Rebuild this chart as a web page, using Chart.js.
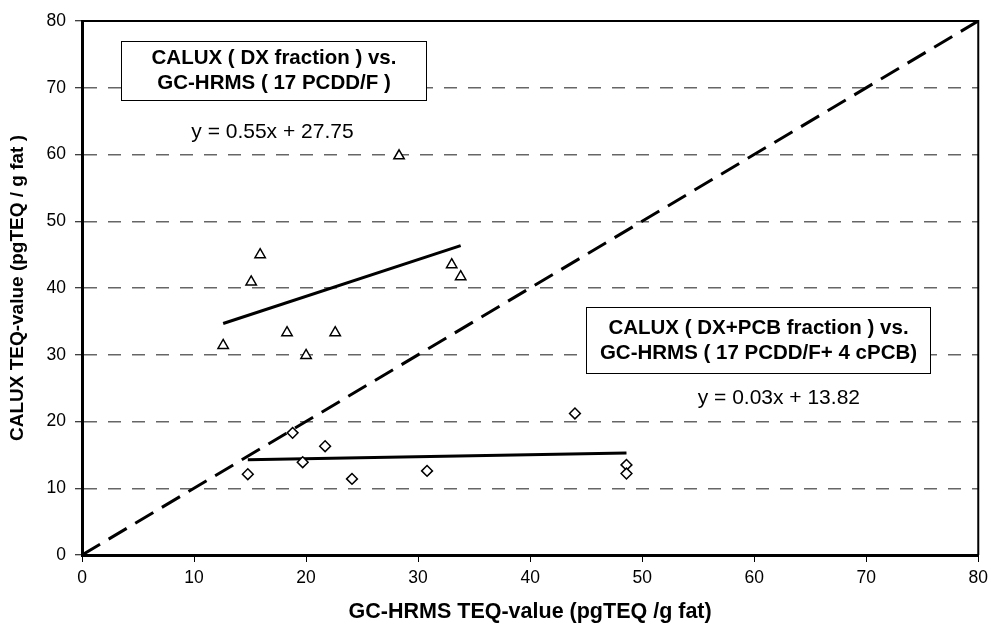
<!DOCTYPE html>
<html>
<head>
<meta charset="utf-8">
<script src="https://cdn.jsdelivr.net/npm/chart.js@4.4.1/dist/chart.umd.min.js"></script>
<style>
  html, body { margin: 0; padding: 0; background: #fff; }
  #wrap { width: 994px; height: 631px; position: relative; }
</style>
</head>
<body>
<div id="wrap"><canvas id="chart"></canvas></div>
<script>
// ===== Data =====
// CALUX DX fraction vs GC-HRMS (17 PCDD/F)  -> triangles
const dxX = [12.6, 15.1, 15.9, 18.3, 20.0, 22.6, 28.3, 33.0, 33.8];
const dxY = [31.4, 40.9, 45.0, 33.3, 29.9, 33.3, 59.8, 43.5, 41.7];
// CALUX DX+PCB fraction vs GC-HRMS (17 PCDD/F + 4 cPCB) -> diamonds
const pcbX = [14.8, 18.8, 19.7, 21.7, 24.1, 30.8, 44.0, 48.6, 48.6];
const pcbY = [12.1, 18.3, 13.9, 16.3, 11.4, 12.6, 21.2, 13.5, 12.2];

// trend lines as printed on the chart
const dxSlope = 0.55, dxIntercept = 27.75;
const pcbSlope = 0.03, pcbIntercept = 13.82;

// 1:1 reference line
const identityX = [0, 80];

const axisTicks = [0, 10, 20, 30, 40, 50, 60, 70, 80];

const toPoints = (xs, ys) => xs.map((x, i) => ({ x: x, y: ys[i] }));
const trend = (xs, slope, b) => {
    const lo = Math.min(...xs), hi = Math.max(...xs);
    return [{ x: lo, y: slope * lo + b }, { x: hi, y: slope * hi + b }];
};

// ===== Text boxes (data coordinates) =====
const notes = [
    { box: [3.45, 77.0, 30.7, 68.2], lines: ['CALUX ( DX fraction ) vs.', 'GC-HRMS ( 17 PCDD/F )'] },
    { box: [45.0, 37.1, 75.7, 27.2], lines: ['CALUX ( DX+PCB fraction ) vs.', 'GC-HRMS ( 17 PCDD/F+ 4 cPCB)'] }
];
const equations = [
    { x: 17.0, y: 63.3, text: 'y = 0.55x + 27.75' },
    { x: 62.2, y: 23.5, text: 'y = 0.03x + 13.82' }
];

const FONT = "'Liberation Sans', Arial, sans-serif";

const notesPlugin = {
    id: 'notes',
    afterDatasetsDraw(chart) {
        const { ctx, chartArea, scales: { x, y } } = chart;
        ctx.save();
        // top and right frame
        ctx.strokeStyle = '#000';
        ctx.lineWidth = 2;
        ctx.beginPath();
        ctx.moveTo(chartArea.left, chartArea.top);
        ctx.lineTo(chartArea.right, chartArea.top);
        ctx.lineTo(chartArea.right, chartArea.bottom);
        ctx.stroke();

        notes.forEach(n => {
            const x1 = Math.round(x.getPixelForValue(n.box[0])) + 0.5;
            const y1 = Math.round(y.getPixelForValue(n.box[1])) + 0.5;
            const x2 = Math.round(x.getPixelForValue(n.box[2])) + 0.5;
            const y2 = Math.round(y.getPixelForValue(n.box[3])) + 0.5;
            ctx.fillStyle = '#fff';
            ctx.fillRect(x1, y1, x2 - x1, y2 - y1);
            ctx.strokeStyle = '#000';
            ctx.lineWidth = 1;
            ctx.strokeRect(x1, y1, x2 - x1, y2 - y1);
            ctx.fillStyle = '#000';
            ctx.font = 'bold 20.5px ' + FONT;
            ctx.textAlign = 'center';
            ctx.textBaseline = 'middle';
            const cx = (x1 + x2) / 2, cy = (y1 + y2) / 2;
            ctx.fillText(n.lines[0], cx, cy - 12.5);
            ctx.fillText(n.lines[1], cx, cy + 12.5);
        });

        ctx.font = '21px ' + FONT;
        ctx.textAlign = 'center';
        ctx.textBaseline = 'middle';
        ctx.fillStyle = '#000';
        equations.forEach(e => {
            ctx.fillText(e.text, x.getPixelForValue(e.x), y.getPixelForValue(e.y));
        });
        ctx.restore();
    }
};

const ctx = document.getElementById('chart').getContext('2d');
new Chart(ctx, {
    type: 'scatter',
    data: {
        datasets: [
            {
                label: 'DX fraction',
                data: toPoints(dxX, dxY),
                pointStyle: 'triangle',
                pointRadius: 6,
                pointBorderWidth: 1.5,
                pointBackgroundColor: '#fff',
                pointBorderColor: '#000'
            },
            {
                label: 'DX+PCB fraction',
                data: toPoints(pcbX, pcbY),
                pointStyle: 'rectRot',
                pointRadius: 5.4,
                pointBorderWidth: 1.5,
                pointBackgroundColor: '#fff',
                pointBorderColor: '#000'
            },
            {
                label: 'DX trend',
                data: trend(dxX, dxSlope, dxIntercept),
                showLine: true,
                pointRadius: 0,
                borderColor: '#000',
                borderWidth: 3
            },
            {
                label: 'DX+PCB trend',
                data: trend(pcbX, pcbSlope, pcbIntercept),
                showLine: true,
                pointRadius: 0,
                borderColor: '#000',
                borderWidth: 3
            },
            {
                label: '1:1',
                data: toPoints(identityX, identityX),
                showLine: true,
                pointRadius: 0,
                borderColor: '#000',
                borderWidth: 3,
                borderDash: [21, 10]
            }
        ]
    },
    options: {
        responsive: true,
        maintainAspectRatio: false,
        animation: false,
        layout: { padding: { left: 0, right: 12, top: 21, bottom: 0 } },
        plugins: {
            legend: { display: false },
            tooltip: { enabled: false }
        },
        scales: {
            x: {
                type: 'linear',
                min: 0,
                max: 80,
                afterBuildTicks: (s) => { s.ticks = axisTicks.map(v => ({ value: v })); },
                afterFit: (s) => { s.height = 76; },
                grid: { drawOnChartArea: false, tickLength: 7, tickColor: '#000', tickWidth: 1 },
                border: { color: '#000', width: 3 },
                ticks: { color: '#000', padding: 6, maxRotation: 0, font: { family: FONT, size: 17.5 } },
                title: {
                    display: true,
                    text: 'GC-HRMS TEQ-value (pgTEQ /g fat)',
                    color: '#000',
                    font: { family: FONT, size: 21.5, weight: 'bold', lineHeight: 1.2 },
                    padding: { top: 0, bottom: 6 }
                }
            },
            y: {
                type: 'linear',
                min: 0,
                max: 80,
                afterBuildTicks: (s) => { s.ticks = axisTicks.map(v => ({ value: v })); },
                afterFit: (s) => { s.width = 82; },
                grid: {
                    color: (c) => (c.tick && (c.tick.value === 0 || c.tick.value === 80)) ? 'rgba(0,0,0,0)' : '#666',
                    lineWidth: 1.5,
                    tickLength: 7,
                    tickColor: '#000',
                    tickWidth: 1,
                    tickBorderDash: []
                },
                border: { color: '#000', width: 3, dash: [13, 11] },
                ticks: { color: '#000', padding: 9, font: { family: FONT, size: 17.5 } },
                title: {
                    display: true,
                    text: 'CALUX TEQ-value (pgTEQ / g fat )',
                    color: '#000',
                    font: { family: FONT, size: 19, weight: 'bold', lineHeight: 1.2 },
                    padding: { top: 6, bottom: 0 }
                }
            }
        }
    },
    plugins: [notesPlugin]
});
</script>
</body>
</html>
